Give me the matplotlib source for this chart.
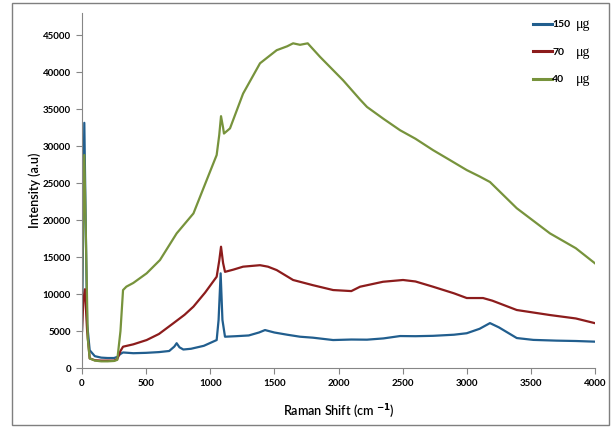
import matplotlib
matplotlib.use("Agg")
import matplotlib.pyplot as plt
from matplotlib.patches import Rectangle

# Raman spectra (x in cm-1, y in a.u.)
x_150 = [0, 18, 40, 60, 100, 150, 200, 250, 275, 300, 320, 400, 500, 600, 680, 720, 738, 760, 790,
         850, 950, 1050, 1065, 1081, 1095, 1115, 1200, 1300, 1380, 1427, 1500, 1600, 1700, 1800,
         1958, 2100, 2222, 2350, 2480, 2600, 2737, 2900, 3000, 3100, 3181, 3250, 3390, 3519,
         3700, 3850, 4000]
y_150 = [5000, 33150, 6000, 2400, 1600, 1400, 1350, 1350, 1500, 1900, 2100, 2000, 2050, 2150, 2300,
         2900, 3350, 2800, 2500, 2600, 3000, 3780, 6500, 12800, 6500, 4230, 4300, 4400, 4800,
         5130, 4800, 4500, 4230, 4100, 3780, 3850, 3830, 4000, 4320, 4300, 4350, 4500, 4700,
         5300, 6070, 5500, 4050, 3800, 3700, 3650, 3560]

x_70 = [0, 10, 23, 40, 60, 100, 150, 200, 250, 275, 300, 320, 400, 504, 600, 713, 800, 869, 960,
        1050, 1070, 1084, 1100, 1115, 1180, 1256, 1388, 1450, 1518, 1646, 1800, 1958, 2100,
        2168, 2347, 2503, 2600, 2737, 2900, 3000, 3127, 3200, 3390, 3649, 3850, 4000]
y_70 = [5000, 9000, 10650, 5000, 1300, 1050, 1000, 1000, 1000, 1200, 2300, 2880, 3200, 3780, 4600,
        6060, 7200, 8300, 10200, 12340, 14500, 16400, 14200, 13000, 13300, 13700, 13900, 13700,
        13240, 11900, 11200, 10540, 10400, 10990, 11660, 11900, 11700, 10990, 10100, 9460, 9460,
        9100, 7840, 7160, 6700, 6060]

x_40 = [0, 8, 18, 30, 45, 60, 100, 150, 200, 250, 275, 300, 320, 346, 400, 504, 608, 738, 869,
        972, 1050, 1070, 1084, 1100, 1107, 1154, 1256, 1388, 1518, 1600, 1646, 1700, 1760,
        1856, 2036, 2168, 2222, 2350, 2480, 2600, 2737, 2870, 3000, 3100, 3181, 3390, 3649,
        3850, 4000]
y_40 = [10500, 20000, 28800, 18000, 4000, 1300, 1000, 900, 900, 950, 1100, 5000, 10540, 11000,
        11500, 12800, 14600, 18200, 20900, 25400, 28800, 31500, 34050, 32500, 31700, 32400,
        37100, 41200, 42970, 43500, 43900, 43700, 43900, 42070, 38900, 36300, 35300, 33700,
        32150, 31000, 29460, 28100, 26760, 25900, 25150, 21600, 18200, 16200, 14150]

labels = ["150", "70", "40"]
colors = ["#215E8E", "#8C1C1C", "#77933C"]

fig = plt.figure(figsize=(6.12, 4.32), dpi=100)
ax = fig.add_axes([82 / 612, 64 / 432, 513 / 612, 355 / 432])

# outer frame around the whole chart
fig.patches.append(Rectangle((12 / 612, 7 / 432), 597 / 612, 422 / 432, transform=fig.transFigure,
                             fill=False, edgecolor="#7f7f7f", linewidth=1.0))

for xs, ys, lab, c in zip([x_150, x_70, x_40], [y_150, y_70, y_40], labels, colors):
    ax.plot(xs, ys, color=c, lw=1.6, label=lab)

ax.set_xlim(0, 4000)
ax.set_ylim(0, 48000)
ax.set_xticks(range(0, 4001, 500))
ax.set_yticks(range(0, 45001, 5000))
for s in ["top", "right"]:
    ax.spines[s].set_visible(False)
for s in ["left", "bottom"]:
    ax.spines[s].set_color("#868686")
ax.tick_params(direction="out", length=4, color="#868686", labelsize=7, pad=4)
for t in ax.get_xticklabels() + ax.get_yticklabels():
    t.set_fontweight("bold")
    t.set_family("Lato")

ax.set_ylabel("Intensity (a.u)", family="Lato", fontsize=9, fontweight="semibold", labelpad=1)
ax.set_xlabel(r"Raman Shift (cm $^{\mathbf{-1}}$)", family="Lato", fontsize=9,
              fontweight="semibold", labelpad=10)

leg = fig.legend(*ax.get_legend_handles_labels(), loc="upper left",
                 bbox_to_anchor=(533 / 612, 1 - 20 / 432), frameon=False,
                 borderpad=0, borderaxespad=0, handlelength=1.8, handletextpad=0.05,
                 labelspacing=1.75, prop={"family": "Lato", "weight": "bold", "size": 7.5})
for h in leg.get_lines():
    h.set_linewidth(2.2)

fig.canvas.draw()
inv = fig.transFigure.inverted()
for t in leg.get_texts():
    bb = t.get_window_extent()
    yc = inv.transform((0, (bb.y0 + bb.y1) / 2))[1]
    fig.text(576 / 612, yc, "\u03bcg", family="Liberation Serif", fontsize=10,
             va="center", ha="left")

fig.savefig("out.png", dpi=100)
